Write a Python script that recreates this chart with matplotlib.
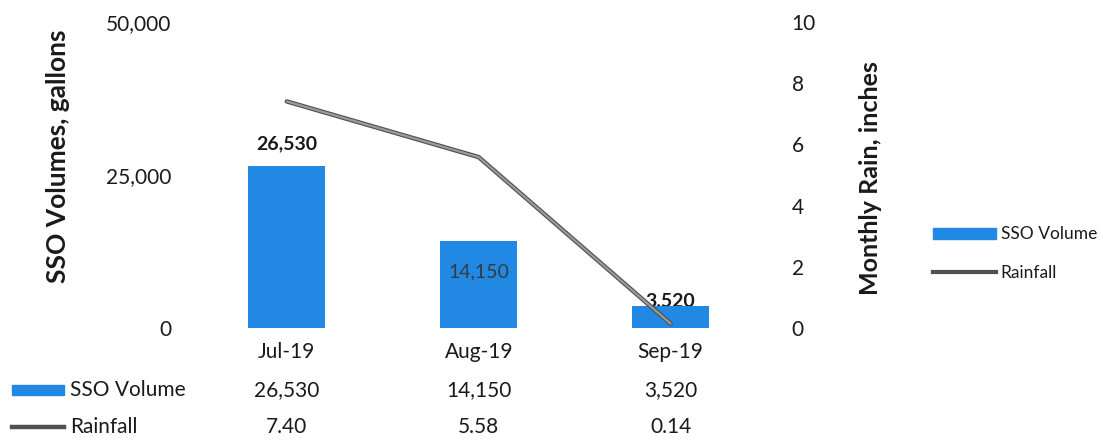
import matplotlib.pyplot as plt
import matplotlib.transforms as mtransforms
from matplotlib.patches import Rectangle
from matplotlib.lines import Line2D

plt.rcParams['font.family'] = ['Lato', 'DejaVu Sans']

# data
months = ['Jul-19', 'Aug-19', 'Sep-19']
sso_volume = [26530, 14150, 3520]
rainfall = [7.40, 5.58, 0.14]
vol_ticks = [0, 25000, 50000]
rain_ticks = [0, 2, 4, 6, 8, 10]

bar_color = '#2189E3'
line_dark = '#505050'
line_light = '#9A9A9A'
txt = '#1A1A1A'
fs = 15

fig = plt.figure(figsize=(11.03, 4.45), dpi=100)
ax = fig.add_axes([0.173, 0.263, 0.522, 0.688])
x = list(range(len(months)))

ax.bar(x, sso_volume, width=0.4, color=bar_color, zorder=2)
ax.set_ylim(0, 50000)
ax.set_xlim(-0.5, 2.5)
ax.set_yticks(vol_ticks)
ax.set_yticklabels([f'{v:,}' for v in vol_ticks], fontsize=fs, color=txt)
ax.set_xticks(x)
ax.set_xticklabels(months, fontsize=fs, color=txt)
ax.tick_params(length=0, pad=10)
ax.tick_params(axis='y', pad=14)
for s in ax.spines.values():
    s.set_visible(False)
ax.set_ylabel('SSO Volumes, gallons', fontsize=19, fontweight='bold', color=txt)
ax.yaxis.set_label_coords(-0.21, 0.56)

# bar labels
ax.text(0, sso_volume[0] + 3500, f'{sso_volume[0]:,}', ha='center', va='center',
        fontsize=14, fontweight='bold', color=txt)
ax.text(1, sso_volume[1] - 5000, f'{sso_volume[1]:,}', ha='center', va='center',
        fontsize=14, color='#3A3A3A')
ax.text(2, sso_volume[2] + 1000, f'{sso_volume[2]:,}', ha='center', va='center',
        fontsize=14, fontweight='bold', color=txt, zorder=1)

ax2 = ax.twinx()
ax2.plot(x, rainfall, color=line_dark, lw=3.2, solid_capstyle='round', zorder=3)
ax2.plot(x, rainfall, color=line_light, lw=1.6, solid_capstyle='round', zorder=4)
ax2.set_ylim(0, 10)
ax2.set_yticks(rain_ticks)
ax2.set_yticklabels([str(t) for t in rain_ticks], fontsize=fs, color=txt)
ax2.tick_params(length=0, pad=18)
for s in ax2.spines.values():
    s.set_visible(False)
ax2.set_ylabel('Monthly Rain, inches', fontsize=18, fontweight='bold', color=txt)
ax2.yaxis.set_label_coords(1.16, 0.49)

# legend
leg = fig.legend(handles=[Rectangle((0, 0), 1, 1, color=bar_color),
                          Line2D([0], [0], color=line_dark, lw=3)],
                 labels=['SSO Volume', 'Rainfall'], loc='center left',
                 bbox_to_anchor=(0.835, 0.43), frameon=False, fontsize=12.5,
                 handlelength=3.6, handletextpad=0.3, labelspacing=1.3,
                 handleheight=0.6, borderpad=0.2)
for t in leg.get_texts():
    t.set_color(txt)

# data table
trans = mtransforms.blended_transform_factory(ax.transData, fig.transFigure)
row_y = [1 - 390 / 445, 1 - 427 / 445]
for i in x:
    ax.text(i, row_y[0], f'{sso_volume[i]:,}', transform=trans, ha='center',
            va='center', fontsize=fs, color=txt)
    ax.text(i, row_y[1], f'{rainfall[i]:.2f}', transform=trans, ha='center',
            va='center', fontsize=fs, color=txt)
fig.patches.append(Rectangle((12 / 1103, row_y[0] - 0.012), 52 / 1103, 0.024,
                             color=bar_color, transform=fig.transFigure))
fig.lines.append(Line2D([12 / 1103, 64 / 1103], [row_y[1], row_y[1]], color=line_dark,
                        lw=3.2, transform=fig.transFigure))
fig.text(70 / 1103, row_y[0], 'SSO Volume', ha='left', va='center', fontsize=fs, color=txt)
fig.text(70 / 1103, row_y[1], 'Rainfall', ha='left', va='center', fontsize=fs, color=txt)

fig.savefig('out.png', dpi=100, facecolor='white')
